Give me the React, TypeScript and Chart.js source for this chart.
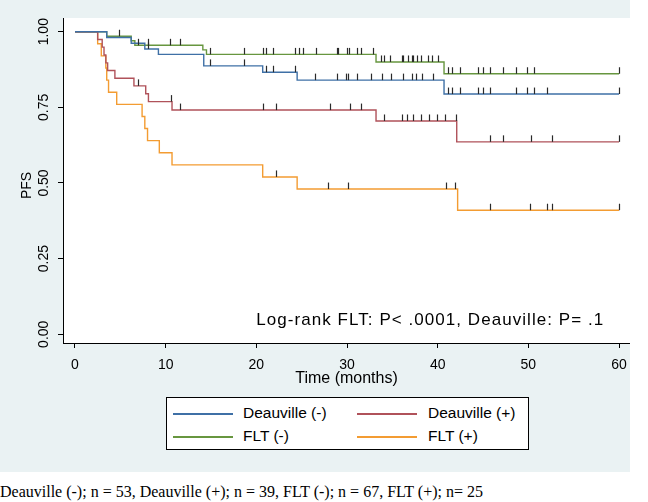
import React, { useEffect, useRef } from "react";
import { Chart, registerables } from "chart.js";

Chart.register(...registerables);

// ---------- data ----------
const seriesNames = ["Deauville (-)", "Deauville (+)", "FLT (-)", "FLT (+)"];
const seriesColors = ["#3f70a6", "#b0525a", "#67963f", "#f39c32"];

// Deauville (-)
const deauNegTimes = [0, 3.5, 6.2, 7.7, 9.2, 14.2, 20.7, 24.5, 40.7];
const deauNegSurv = [1, 0.981, 0.962, 0.943, 0.925, 0.887, 0.866, 0.84, 0.794];
const deauNegCensor = [8.0, 14.9, 18.6, 21.1, 21.8, 24.3, 26.5, 28.9, 29.9, 30.1, 31.1, 32.6, 33.9, 34.8, 36.2, 37.2, 37.6, 38.3, 39.5, 41.1, 41.6, 42.5, 44.5, 45.0, 45.8, 48.6, 49.9, 50.6, 52.1, 60];

// Deauville (+)
const deauPosTimes = [0, 2.5, 3.0, 3.2, 3.4, 3.6, 4.4, 6.5, 7.8, 8.1, 10.7, 33.2, 42.1];
const deauPosSurv = [1, 0.974, 0.949, 0.923, 0.897, 0.872, 0.846, 0.821, 0.795, 0.769, 0.741, 0.705, 0.636];
const deauPosCensor = [6.9, 10.6, 11.6, 20.7, 22.2, 28.1, 30.3, 31.5, 34.1, 36.1, 36.6, 37.3, 38.2, 39.0, 39.9, 40.8, 42.0, 45.8, 47.2, 50.3, 52.6, 60];

// FLT (-)
const fltNegTimes = [0, 3.5, 6.2, 6.6, 14.1, 14.5, 33.2, 40.7];
const fltNegSurv = [1, 0.985, 0.97, 0.955, 0.94, 0.925, 0.9, 0.861];
const fltNegCensor = [4.9, 6.9, 8.0, 10.5, 11.6, 14.9, 18.6, 20.7, 21.1, 21.8, 24.3, 24.7, 25.2, 26.6, 28.9, 29.0, 30.0, 30.2, 31.1, 31.5, 32.9, 33.8, 34.1, 34.7, 36.1, 36.2, 36.7, 37.2, 37.3, 37.7, 38.2, 38.9, 39.4, 40.0, 41.1, 41.6, 42.5, 44.5, 45.0, 45.8, 47.2, 48.6, 49.9, 50.6, 60];

// FLT (+)
const fltPosTimes = [0, 2.5, 2.9, 3.4, 3.5, 3.7, 4.6, 7.4, 7.7, 8.0, 9.3, 10.7, 20.7, 24.5, 42.2];
const fltPosSurv = [1, 0.96, 0.92, 0.88, 0.84, 0.8, 0.76, 0.72, 0.68, 0.64, 0.6, 0.56, 0.52, 0.48, 0.41];
const fltPosCensor = [22.2, 27.9, 30.1, 40.9, 41.9, 45.8, 50.2, 52.1, 52.6, 60];

const followUpEnd = 60;
const xTicks = [0, 10, 20, 30, 40, 50, 60];
const yTicks = [0, 0.25, 0.5, 0.75, 1];
const yTickLabels = ["0.00", "0.25", "0.50", "0.75", "1.00"];
const xTitle = "Time (months)";
const yTitle = "PFS";
const annotationText = "Log-rank FLT: P< .0001, Deauville: P= .1";
const annotationAt = { x: 20, y: 0.045 };
const captionText = "Deauville (-); n = 53, Deauville (+); n = 39, FLT (-); n = 67, FLT (+); n= 25";

// legend layout: [series index] per row
const legendRows = [
  [0, 1],
  [2, 3],
];

// ---------- helpers ----------
type Series = { name: string; color: string; times: number[]; surv: number[]; censor: number[] };
const seriesList: Series[] = [
  { name: seriesNames[0], color: seriesColors[0], times: deauNegTimes, surv: deauNegSurv, censor: deauNegCensor },
  { name: seriesNames[1], color: seriesColors[1], times: deauPosTimes, surv: deauPosSurv, censor: deauPosCensor },
  { name: seriesNames[2], color: seriesColors[2], times: fltNegTimes, surv: fltNegSurv, censor: fltNegCensor },
  { name: seriesNames[3], color: seriesColors[3], times: fltPosTimes, surv: fltPosSurv, censor: fltPosCensor },
];

function survivalAt(s: Series, t: number) {
  let v = s.surv[0];
  for (let i = 0; i < s.times.length; i++) if (s.times[i] <= t) v = s.surv[i];
  return v;
}

const FONT = "'Liberation Sans', Arial, Helvetica, sans-serif";
const BG = "#eaf2f3";

const bgPlugin = {
  id: "bgPlugin",
  beforeDraw(chart: any) {
    const { ctx, chartArea } = chart;
    ctx.save();
    ctx.fillStyle = BG;
    ctx.fillRect(0, 0, chart.width, chart.height);
    ctx.fillStyle = "#ffffff";
    ctx.fillRect(chartArea.left, chartArea.top, chartArea.right - chartArea.left, chartArea.bottom - chartArea.top);
    ctx.restore();
  },
};

const censorPlugin = {
  id: "censorPlugin",
  afterDatasetsDraw(chart: any) {
    const { ctx, scales } = chart;
    const x = scales.x;
    const y = scales.y;
    ctx.save();
    ctx.strokeStyle = "#2a2a2a";
    ctx.lineWidth = 1.2;
    seriesList.forEach((s) => {
      s.censor.forEach((t) => {
        const px = Math.round(x.getPixelForValue(t)) + 0.5;
        const py = y.getPixelForValue(survivalAt(s, t));
        ctx.beginPath();
        ctx.moveTo(px, py);
        ctx.lineTo(px, py - 6.5);
        ctx.stroke();
      });
    });
    ctx.restore();
  },
};

const textPlugin = {
  id: "textPlugin",
  afterDraw(chart: any) {
    const { ctx, scales, chartArea } = chart;
    const x = scales.x;
    const y = scales.y;
    ctx.save();
    ctx.fillStyle = "#000";
    ctx.font = `14px ${FONT}`;
    ctx.textAlign = "center";
    ctx.textBaseline = "middle";
    yTicks.forEach((v, i) => {
      ctx.save();
      ctx.translate(44, y.getPixelForValue(v));
      ctx.rotate(-Math.PI / 2);
      ctx.fillText(yTickLabels[i], 0, 0);
      ctx.restore();
    });
    ctx.save();
    ctx.font = `14px ${FONT}`;
    ctx.translate(27, (chartArea.top + chartArea.bottom) / 2 + 5);
    ctx.rotate(-Math.PI / 2);
    ctx.fillText(yTitle, 0, 0);
    ctx.restore();
    ctx.font = `17px ${FONT}`;
    (ctx as any).letterSpacing = "1.05px";
    ctx.textAlign = "left";
    ctx.textBaseline = "middle";
    ctx.fillText(annotationText, x.getPixelForValue(annotationAt.x), y.getPixelForValue(annotationAt.y));
    ctx.restore();
  },
};

function Legend() {
  const items: any[] = [];
  legendRows.forEach((r, ri) => {
    r.forEach((si, ci) => {
      const top = ri === 0 ? 15 : 38;
      const lineLeft = ci === 0 ? 6 : 190;
      const textLeft = ci === 0 ? 76 : 261;
      items.push(
        <div
          key={`l-${ri}-${ci}`}
          style={{
            position: "absolute",
            left: lineLeft,
            top: top,
            width: 60,
            height: 1.5,
            background: seriesList[si].color,
          }}
        />
      );
      items.push(
        <div
          key={`t-${ri}-${ci}`}
          style={{
            position: "absolute",
            left: textLeft,
            top: top - 9,
            lineHeight: "18px",
            whiteSpace: "nowrap",
          }}
        >
          {seriesList[si].name}
        </div>
      );
    });
  });
  return (
    <div
      style={{
        position: "absolute",
        left: 166,
        top: 397,
        width: 363,
        height: 53,
        boxSizing: "border-box",
        border: "1px solid #000",
        background: "#fff",
        fontFamily: FONT,
        fontSize: 15.5,
        color: "#000",
      }}
    >
      {items}
    </div>
  );
}

export default function App() {
  const canvasRef = useRef<HTMLCanvasElement | null>(null);

  useEffect(() => {
    document.body.style.margin = "0";
    const canvas = canvasRef.current;
    if (!canvas) return;
    const datasets = seriesList.map((s) => ({
      label: s.name,
      data: [...s.times.map((t, i) => ({ x: t, y: s.surv[i] })), { x: followUpEnd, y: s.surv[s.surv.length - 1] }],
      borderColor: s.color,
      backgroundColor: s.color,
      borderWidth: 1.4,
      pointRadius: 0,
      pointHoverRadius: 0,
      stepped: "before" as const,
      fill: false,
    }));
    const chart = new Chart(canvas, {
      type: "line",
      data: { datasets },
      options: {
        animation: false,
        responsive: false,
        devicePixelRatio: 1,
        layout: { padding: { top: 18, bottom: 84, left: 0, right: 0 } },
        plugins: { legend: { display: false }, tooltip: { enabled: false } },
        scales: {
          x: {
            type: "linear",
            min: -1.323,
            max: 61.21,
            afterBuildTicks: (scale: any) => {
              scale.ticks = xTicks.map((v) => ({ value: v }));
            },
            afterFit: (scale: any) => {
              scale.height = 45;
              scale.paddingLeft = 0;
              scale.paddingRight = 0;
            },
            grid: { drawOnChartArea: false, drawTicks: true, tickLength: 5, color: "#000", lineWidth: 1 },
            border: { display: true, color: "#000", width: 1 },
            ticks: { color: "#000", font: { family: FONT, size: 14 }, padding: 9, maxRotation: 0, autoSkip: false },
            title: { display: true, text: xTitle, color: "#000", font: { family: FONT, size: 16 }, padding: { top: 0, bottom: 0 } },
          },
          y: {
            type: "linear",
            min: -0.0288,
            max: 1.0453,
            afterBuildTicks: (scale: any) => {
              scale.ticks = yTicks.map((v) => ({ value: v }));
            },
            afterFit: (scale: any) => {
              scale.width = 63;
              scale.paddingTop = 0;
              scale.paddingBottom = 0;
            },
            grid: { drawOnChartArea: false, drawTicks: true, tickLength: 5, color: "#000", lineWidth: 1 },
            border: { display: true, color: "#000", width: 1 },
            ticks: { color: "rgba(0,0,0,0)", font: { family: FONT, size: 10 }, padding: 2 },
          },
        },
      },
      plugins: [bgPlugin, censorPlugin, textPlugin],
    });
    return () => chart.destroy();
  }, []);

  return (
    <div style={{ position: "absolute", left: 0, top: 0, width: 648, height: 502, background: "#fff", overflow: "hidden" }}>
      <canvas ref={canvasRef} width={630} height={472} style={{ position: "absolute", left: 0, top: 0, width: 630, height: 472 }} />
      <Legend />
      <div
        style={{
          position: "absolute",
          left: 0,
          top: 484,
          fontFamily: "'Liberation Serif', 'Times New Roman', serif",
          fontSize: 16,
          lineHeight: "16px",
          color: "#000",
          whiteSpace: "nowrap",
        }}
      >
        {captionText}
      </div>
    </div>
  );
}
